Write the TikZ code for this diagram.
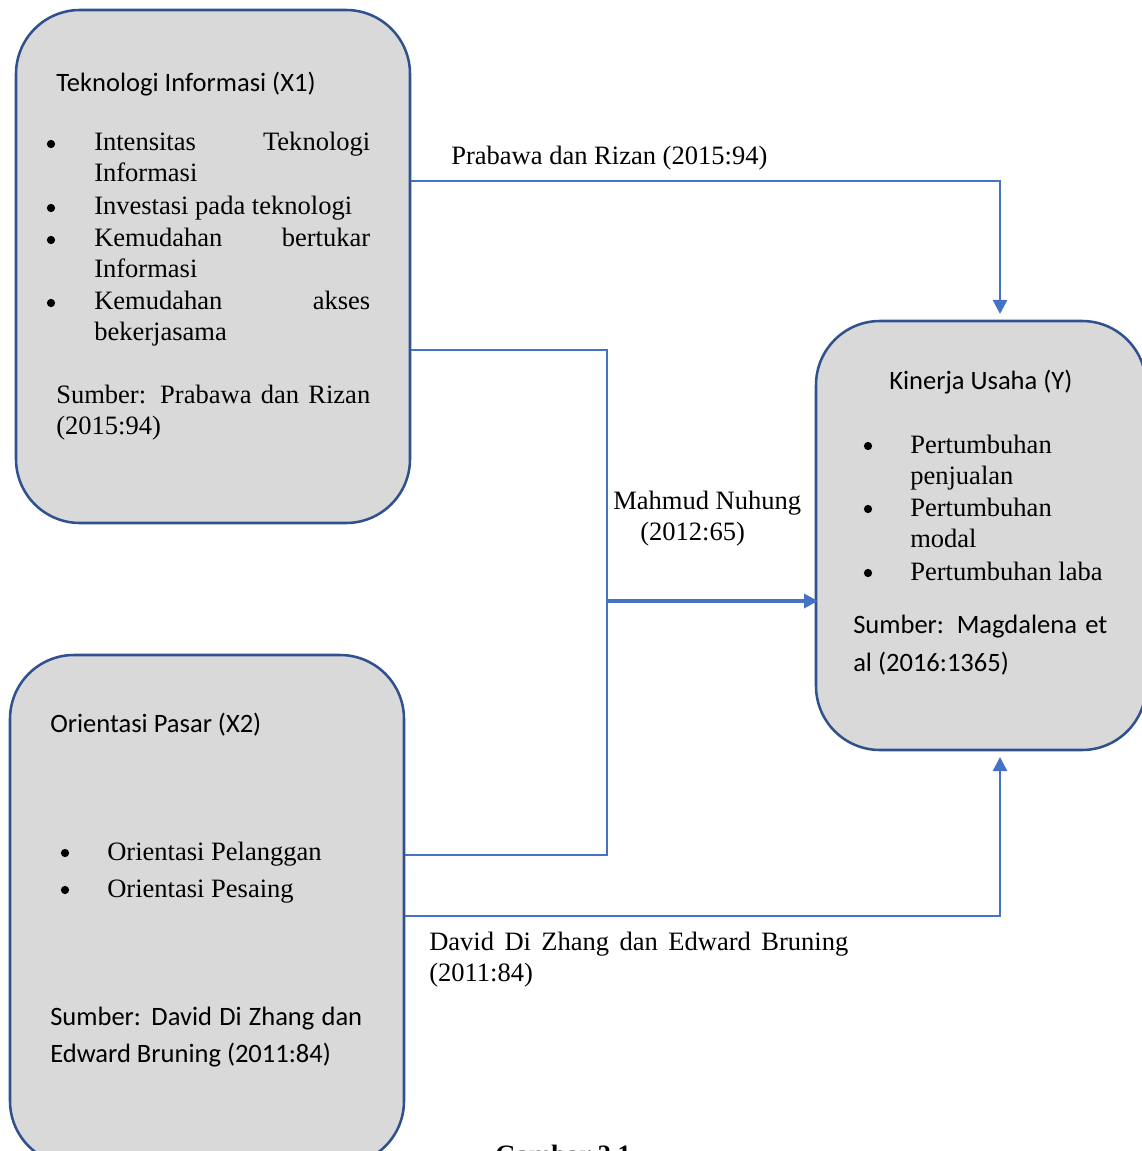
\documentclass[tikz,border=0pt]{standalone}
\usepackage{fontspec}
\setmainfont{Liberation Serif}
\newfontfamily\calfont{Carlito}
\usetikzlibrary{arrows.meta}
\definecolor{boxfill}{HTML}{D9D9D9}
\definecolor{boxline}{HTML}{2F528F}
\definecolor{connc}{HTML}{4472C4}
\begin{document}
\begin{tikzpicture}[x=0.75pt,y=-0.75pt,
  box/.style={draw=boxline, fill=boxfill, line width=1.9pt, rounded corners=48pt, inner sep=0pt},
  tr/.style={inner sep=0pt, anchor=base west, font=\fontsize{19.9pt}{24pt}\selectfont},
  cb/.style={inner sep=0pt, anchor=base west, font=\calfont\fontsize{19.9pt}{24pt}\selectfont},
  bul/.style={circle, fill=black, inner sep=0pt, minimum size=6.2pt},
  link/.style={draw=connc, line width=1.8pt},
  arr/.style={link, -{Triangle[length=10.5pt,width=10.5pt]}}]
\useasboundingbox (0,0) rectangle (1141,1151);

% boxes
\node[box, minimum width=295.5pt, minimum height=384.75pt] (b1) at (213,266.5) {};
\node[box, minimum width=247.5pt, minimum height=321.75pt] (bY) at (981,535.5) {};
\node[box, minimum width=295.5pt, minimum height=382.5pt] (b2) at (207,910) {};

% box 1 text
\node[cb] (t1a) at (56,92) {Teknologi Informasi (X1)};
\node[bul] (u1a) at (51,144) {};
\node[tr] (t1b) at (94,151) {\makebox[207pt][s]{Intensitas Teknologi}};
\node[tr] (t1c) at (94,182) {Informasi};
\node[bul] (u1b) at (51,208) {};
\node[tr] (t1d) at (94,215) {Investasi pada teknologi};
\node[bul] (u1c) at (51,240) {};
\node[tr] (t1e) at (94,247) {\makebox[207pt][s]{Kemudahan bertukar}};
\node[tr] (t1f) at (94,278) {Informasi};
\node[bul] (u1d) at (51,303) {};
\node[tr] (t1g) at (94,310) {\makebox[207pt][s]{Kemudahan akses}};
\node[tr] (t1h) at (94,341) {bekerjasama};
\node[tr] (t1i) at (56,403) {\makebox[235.5pt][s]{Sumber: Prabawa dan Rizan}};
\node[tr] (t1j) at (56,434) {(2015:94)};

% box Y text
\node[cb] (tYa) at (889,389) {Kinerja Usaha (Y)};
\node[bul] (uYa) at (868,446) {};
\node[tr] (tYb) at (910,453) {Pertumbuhan};
\node[tr] (tYc) at (910,484) {penjualan};
\node[bul] (uYb) at (868,509) {};
\node[tr] (tYd) at (910,516) {Pertumbuhan};
\node[tr] (tYe) at (910,547) {modal};
\node[bul] (uYc) at (868,573) {};
\node[tr] (tYf) at (910,580) {Pertumbuhan laba};
\node[cb] (tYg) at (853,633) {\makebox[190.5pt][s]{Sumber: Magdalena et}};
\node[cb] (tYh) at (853,671) {al (2016:1365)};

% box 2 text
\node[cb] (t2a) at (50,732) {Orientasi Pasar (X2)};
\node[bul] (u2a) at (65,853) {};
\node[tr] (t2b) at (107,860) {Orientasi Pelanggan};
\node[bul] (u2b) at (65,890) {};
\node[tr] (t2c) at (107,897) {Orientasi Pesaing};
\node[cb] (t2d) at (50,1025) {\makebox[234pt][s]{Sumber: David Di Zhang dan}};
\node[cb] (t2e) at (50,1062) {Edward Bruning (2011:84)};

% connector labels
\node[tr] (l1) at (451,165) {Prabawa dan Rizan (2015:94)};
\node[tr] (l2a) at (613,509) {Mahmud Nuhung};
\node[tr] (l2b) at (640,540) {(2012:65)};
\node[tr] (l3a) at (429,950) {\makebox[314.25pt][s]{David Di Zhang dan Edward Bruning}};
\node[tr] (l3b) at (429,981) {(2011:84)};

% caption (cut at bottom, as in the source)
\node[tr, font=\fontsize{19.9pt}{24pt}\selectfont\bfseries] (cap) at (495,1163) {Gambar 2.1};

% connectors
\coordinate (yin1) at (1000,314);
\coordinate (yin2) at (1000,757);
\coordinate (yin3) at (818,601);
\coordinate (j) at (607,601);
\draw[arr] (b1.east |- 0,181) -| (yin1);
\draw[link] (b1.east |- 0,350) -| (j);
\draw[link] (b2.east |- 0,855) -| (j);
\draw[arr, line width=2.6pt] (j) -- (yin3);
\draw[arr] (b2.east |- 0,916) -| (yin2);
\end{tikzpicture}
\end{document}
